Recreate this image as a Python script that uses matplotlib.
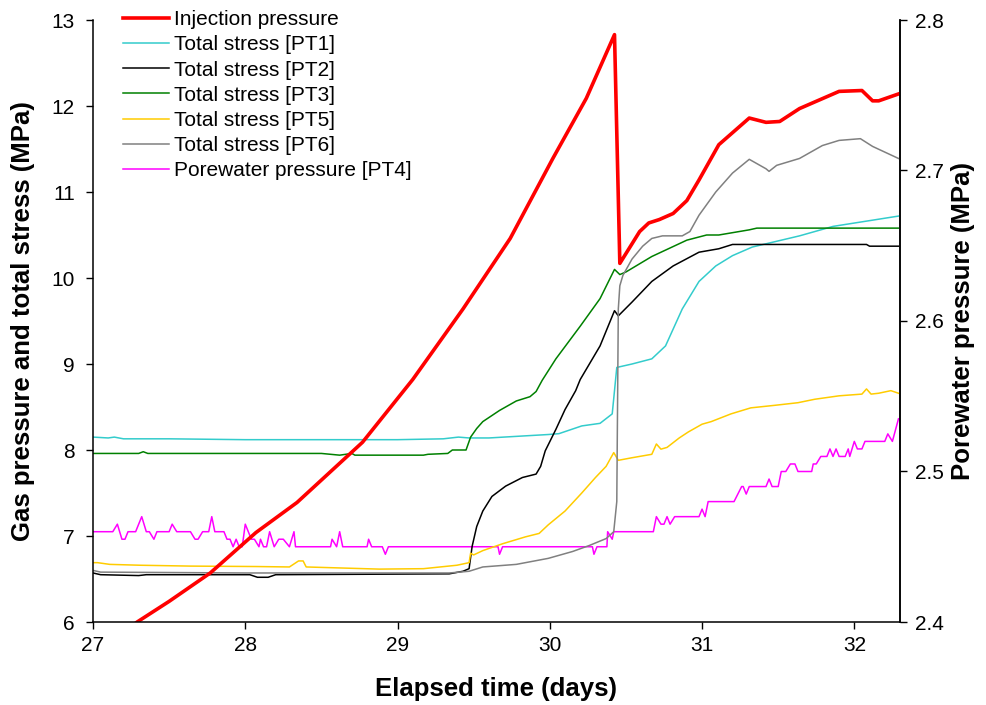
import numpy as np
import matplotlib as mpl
mpl.use("Agg")
from matplotlib import pyplot as plt

plt.rcParams['font.family'] = ['Liberation Sans', 'DejaVu Sans']

# Injection pressure (MPa) ---------------------------------------------------
t_inj = [27.2, 27.29, 27.5, 27.77, 28.07, 28.34, 28.77, 29.10, 29.43, 29.74,
         30.02, 30.24, 30.425, 30.46, 30.59, 30.65, 30.72, 30.81, 30.90, 30.98,
         31.11, 31.31, 31.42, 31.51, 31.64, 31.90, 32.05, 32.12, 32.16, 32.29]
p_inj = [5.88, 6.0, 6.24, 6.57, 7.04, 7.39, 8.09, 8.82, 9.64, 10.46,
         11.39, 12.09, 12.83, 10.17, 10.54, 10.64, 10.68, 10.75, 10.90, 11.14,
         11.55, 11.86, 11.81, 11.82, 11.97, 12.17, 12.18, 12.06, 12.06, 12.14]

# Total stress PT1 -----------------------------------------------------------
t_pt1 = [27.0, 27.1, 27.14, 27.2, 27.5, 28.0, 29.0, 29.3, 29.4, 29.47, 29.6,
         29.99, 30.06, 30.21, 30.33, 30.41, 30.44, 30.54, 30.67, 30.76, 30.87,
         30.98, 31.09, 31.2, 31.33, 31.64, 31.86, 32.29]
s_pt1 = [8.15, 8.14, 8.15, 8.13, 8.13, 8.12, 8.12, 8.13, 8.15, 8.14, 8.14,
         8.18, 8.19, 8.28, 8.31, 8.42, 8.96, 9.0, 9.06, 9.21, 9.64,
         9.96, 10.14, 10.26, 10.36, 10.49, 10.6, 10.72]

# Total stress PT2 -----------------------------------------------------------
t_pt2 = [27.0, 27.05, 27.3, 27.35, 28.03, 28.08, 28.15, 28.2, 29.34, 29.43,
         29.47, 29.49, 29.52, 29.56, 29.62, 29.71, 29.82, 29.91, 29.94, 29.97,
         30.04, 30.10, 30.17, 30.2, 30.33, 30.425, 30.45, 30.54, 30.67, 30.81,
         30.98, 31.11, 31.2, 31.5, 31.8, 32.08, 32.1, 32.29]
s_pt2 = [6.57, 6.55, 6.54, 6.55, 6.55, 6.52, 6.52, 6.55, 6.56, 6.59,
         6.62, 6.88, 7.11, 7.29, 7.46, 7.58, 7.68, 7.72, 7.81, 7.99,
         8.24, 8.47, 8.69, 8.82, 9.21, 9.62, 9.56, 9.72, 9.96, 10.14,
         10.30, 10.34, 10.39, 10.39, 10.39, 10.39, 10.37, 10.37]

# Total stress PT3 -----------------------------------------------------------
t_pt3 = [27.0, 27.3, 27.33, 27.36, 28.5, 28.62, 28.7, 28.72, 29.17, 29.2,
         29.33, 29.36, 29.45, 29.48, 29.52, 29.56, 29.67, 29.78, 29.87, 29.91,
         29.95, 30.04, 30.20, 30.33, 30.425, 30.46, 30.5, 30.67, 30.90, 31.03,
         31.11, 31.31, 31.36, 32.29]
s_pt3 = [7.96, 7.96, 7.98, 7.96, 7.96, 7.94, 7.96, 7.94, 7.94, 7.95,
         7.96, 8.0, 8.0, 8.15, 8.25, 8.33, 8.46, 8.57, 8.62, 8.68,
         8.81, 9.06, 9.44, 9.76, 10.10, 10.04, 10.07, 10.25, 10.44, 10.50,
         10.50, 10.56, 10.58, 10.58]

# Total stress PT5 -----------------------------------------------------------
t_pt5 = [27.0, 27.03, 27.11, 27.31, 27.64, 28.07, 28.29, 28.35, 28.38, 28.40,
         28.88, 29.17, 29.39, 29.47, 29.48, 29.5, 29.56, 29.69, 29.84, 29.93,
         29.99, 30.1, 30.21, 30.3, 30.37, 30.42, 30.45, 30.54, 30.67, 30.7,
         30.73, 30.77, 30.85, 30.91, 31.0, 31.06, 31.19, 31.32, 31.48, 31.63,
         31.74, 31.9, 32.05, 32.08, 32.11, 32.16, 32.24, 32.29]
s_pt5 = [6.69, 6.69, 6.67, 6.66, 6.65, 6.645, 6.64, 6.71, 6.71, 6.64,
         6.615, 6.62, 6.66, 6.69, 6.80, 6.78, 6.83, 6.91, 6.99, 7.03,
         7.13, 7.29, 7.50, 7.68, 7.81, 7.97, 7.88, 7.91, 7.95, 8.07,
         8.01, 8.03, 8.14, 8.21, 8.30, 8.33, 8.42, 8.49, 8.52, 8.55,
         8.59, 8.63, 8.65, 8.71, 8.65, 8.66, 8.69, 8.66]

# Total stress PT6 -----------------------------------------------------------
t_pt6 = [27.0, 27.05, 28.0, 29.34, 29.47, 29.56, 29.78, 29.99, 30.15, 30.26,
         30.37, 30.42, 30.44, 30.45, 30.46, 30.48, 30.54, 30.61, 30.67, 30.74,
         30.87, 30.92, 30.98, 31.09, 31.2, 31.31, 31.42, 31.44, 31.49, 31.64,
         31.79, 31.90, 32.04, 32.12, 32.29]
s_pt6 = [6.60, 6.58, 6.57, 6.57, 6.59, 6.64, 6.67, 6.74, 6.82, 6.89,
         6.97, 7.05, 7.4, 9.64, 9.91, 10.03, 10.22, 10.37, 10.46, 10.49,
         10.49, 10.54, 10.73, 11.0, 11.22, 11.38, 11.27, 11.24, 11.31, 11.39,
         11.54, 11.60, 11.62, 11.53, 11.39]

# Porewater pressure PT4 (right axis) ---------------------------------------
t_pt4 = [27.0, 27.13, 27.16, 27.19, 27.21, 27.23, 27.28, 27.32, 27.35, 27.37,
         27.40, 27.42, 27.50, 27.52, 27.55, 27.64, 27.67, 27.69, 27.72, 27.76,
         27.78, 27.80, 27.86, 27.88, 27.90, 27.92, 27.94, 27.96, 27.98, 28.00,
         28.04, 28.06, 28.09, 28.10, 28.12, 28.14, 28.16, 28.19, 28.22, 28.25,
         28.29, 28.32, 28.33, 28.56, 28.57, 28.60, 28.62, 28.64, 28.80, 28.81,
         28.83, 28.90, 28.92, 28.94, 29.66, 29.67, 29.69, 30.28, 30.29, 30.31,
         30.375, 30.38, 30.41, 30.42, 30.68, 30.70, 30.73, 30.75, 30.77, 30.79,
         30.82, 30.98, 31.00, 31.02, 31.04, 31.21, 31.26, 31.27, 31.29, 31.31,
         31.42, 31.44, 31.46, 31.50, 31.52, 31.55, 31.58, 31.61, 31.63, 31.72,
         31.73, 31.75, 31.78, 31.82, 31.84, 31.86, 31.88, 31.90, 31.94, 31.96,
         31.97, 32.00, 32.02, 32.05, 32.07, 32.20, 32.22, 32.25, 32.29]
p_pt4 = [2.46, 2.46, 2.465, 2.455, 2.455, 2.46, 2.46, 2.47, 2.46, 2.46,
         2.455, 2.46, 2.46, 2.465, 2.46, 2.46, 2.455, 2.455, 2.46, 2.46,
         2.47, 2.46, 2.46, 2.455, 2.455, 2.45, 2.455, 2.45, 2.45, 2.465,
         2.455, 2.455, 2.45, 2.455, 2.45, 2.45, 2.46, 2.45, 2.455, 2.455,
         2.45, 2.46, 2.45, 2.45, 2.455, 2.45, 2.46, 2.45, 2.45, 2.455,
         2.45, 2.45, 2.445, 2.45, 2.45, 2.445, 2.45, 2.45, 2.445, 2.45,
         2.45, 2.46, 2.455, 2.46, 2.46, 2.47, 2.465, 2.465, 2.47, 2.465,
         2.47, 2.47, 2.475, 2.47, 2.48, 2.48, 2.49, 2.49, 2.485, 2.49,
         2.49, 2.495, 2.49, 2.49, 2.50, 2.50, 2.505, 2.505, 2.50, 2.50,
         2.505, 2.505, 2.51, 2.51, 2.515, 2.51, 2.515, 2.51, 2.51, 2.515,
         2.51, 2.52, 2.515, 2.515, 2.52, 2.52, 2.525, 2.52, 2.535]

# Figure ---------------------------------------------------------------------
fig = plt.figure(figsize=(9.87, 7.05), dpi=100)
ax1 = fig.add_axes([93/987, 1-622/705, 807/987, 602/705])
ax2 = ax1.twinx()
ax1.set_zorder(ax2.get_zorder() + 1)
ax1.patch.set_visible(False)

lw = 1.1
l1, = ax1.plot(t_pt1, s_pt1, color='#33CCCC', lw=lw, label='Total stress [PT1]')
l2, = ax1.plot(t_pt2, s_pt2, color='k', lw=lw, label='Total stress [PT2]')
l3, = ax1.plot(t_pt3, s_pt3, color='#008000', lw=lw, label='Total stress [PT3]')
l5, = ax1.plot(t_pt5, s_pt5, color='#FFCC00', lw=lw, label='Total stress [PT5]')
l6, = ax1.plot(t_pt6, s_pt6, color='#808080', lw=lw, label='Total stress [PT6]')
l0, = ax1.plot(t_inj, p_inj, color='#FF0000', lw=2.6, label='Injection pressure')
l4, = ax2.plot(t_pt4, p_pt4, color='#FF00FF', lw=lw, label='Porewater pressure [PT4]')

ax1.set_xlim(27, 32.3)
ax1.set_ylim(6, 13)
ax2.set_ylim(2.4, 2.8)
ax1.set_xticks(np.arange(27, 33, 1))
ax1.set_yticks(np.arange(6, 14, 1))
ax2.set_yticks([2.4, 2.5, 2.6, 2.7, 2.8])

for ax in (ax1, ax2):
    ax.spines['top'].set_visible(False)
    for s in ax.spines.values():
        s.set_linewidth(1.1)
    ax.tick_params(direction='out', length=5, width=1.0, labelsize=15, pad=6)
ax1.tick_params(axis='x', pad=5)
ax1.tick_params(axis='y', pad=8)
ax2.spines['left'].set_visible(False)
ax2.spines['bottom'].set_visible(False)

ax1.set_xlabel('Elapsed time (days)', fontsize=18.5, fontweight='bold', labelpad=16)
ax1.set_ylabel('Gas pressure and total stress (MPa)', fontsize=18.5,
               fontweight='bold', labelpad=12)
ax2.set_ylabel('Porewater pressure (MPa)', fontsize=18.5, fontweight='bold',
               labelpad=5)

handles = [l0, l1, l2, l3, l5, l6, l4]
fig.legend(handles=handles, loc='upper left', bbox_to_anchor=(123/987, 1-10/705),
           frameon=False, fontsize=15, handlelength=2.2, handletextpad=0.25,
           labelspacing=0.3, borderpad=0, borderaxespad=0)

fig.savefig('out.png', dpi=100, facecolor='white')
